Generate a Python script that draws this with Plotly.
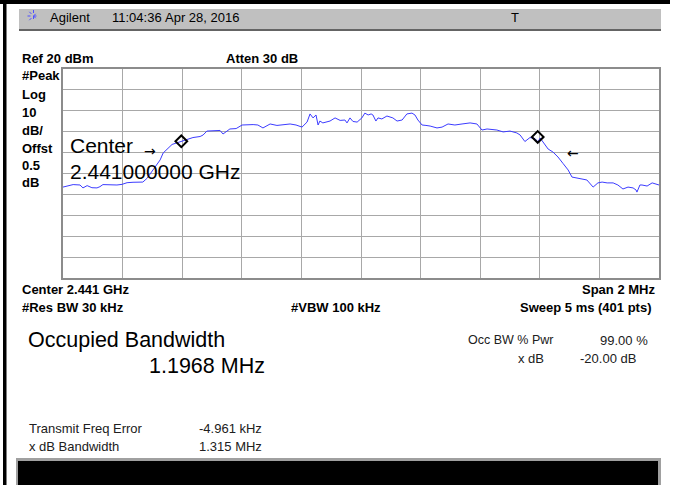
import plotly.graph_objects as go

# ---------------- data ----------------
freq_mhz = [2440.000, 2440.023, 2440.034, 2440.057, 2440.067, 2440.081, 2440.097, 2440.114,
            2440.124, 2440.134, 2440.158, 2440.181, 2440.198, 2440.215, 2440.235, 2440.258,
            2440.268, 2440.282, 2440.302, 2440.326, 2440.336, 2440.349, 2440.366, 2440.383,
            2440.399, 2440.416, 2440.436, 2440.460, 2440.470, 2440.483, 2440.503, 2440.527,
            2440.537, 2440.560, 2440.581, 2440.601, 2440.638, 2440.654, 2440.671, 2440.695,
            2440.718, 2440.738, 2440.762, 2440.782, 2440.802, 2440.819, 2440.829, 2440.839,
            2440.849, 2440.856, 2440.862, 2440.872, 2440.896, 2440.913, 2440.930, 2440.946,
            2440.953, 2440.963, 2440.973, 2440.987, 2441.003, 2441.013, 2441.024, 2441.034,
            2441.040, 2441.050, 2441.057, 2441.070, 2441.087, 2441.107, 2441.121, 2441.138,
            2441.154, 2441.171, 2441.181, 2441.191, 2441.205, 2441.218, 2441.232, 2441.255,
            2441.272, 2441.292, 2441.315, 2441.339, 2441.366, 2441.389, 2441.406, 2441.423,
            2441.456, 2441.477, 2441.500, 2441.523, 2441.534, 2441.550, 2441.567, 2441.584,
            2441.594, 2441.601, 2441.611, 2441.628, 2441.644, 2441.661, 2441.678, 2441.695,
            2441.708, 2441.725, 2441.745, 2441.758, 2441.779, 2441.795, 2441.809, 2441.826,
            2441.846, 2441.862, 2441.879, 2441.896, 2441.913, 2441.923, 2441.926, 2441.936,
            2441.943, 2441.960, 2441.977, 2441.987, 2442.000]
level_dbm = [-36.5, -35.7, -35.3, -35.5, -36.9, -35.8, -36.8, -36.9,
             -36.3, -35.3, -35.5, -35.5, -35.2, -34.4, -34.2, -33.9,
             -34.1, -32.3, -28.3, -23.5, -20.2, -18.3, -16.1, -15.3,
             -14.6, -14.0, -12.8, -12.3, -11.6, -9.7, -9.4, -9.4,
             -11.1, -8.7, -8.5, -6.8, -6.6, -6.8, -8.2, -6.3,
             -7.0, -6.8, -6.3, -6.8, -7.8, -5.4, -1.5, -3.4,
             -2.0, -6.8, -4.9, -5.8, -4.9, -3.4, -4.6, -4.4,
             -5.8, -3.4, -5.1, -5.4, -3.4, -1.1, -2.0, -1.5,
             -2.0, -4.9, -3.4, -3.9, -2.5, -3.4, -4.9, -4.4,
             -1.5, -1.1, -2.0, -4.4, -6.8, -7.0, -7.3, -8.2,
             -7.8, -6.3, -6.8, -6.3, -5.8, -6.3, -9.2, -8.7,
             -9.2, -10.1, -9.7, -10.6, -11.6, -14.7, -12.8, -13.3,
             -14.9, -13.0, -14.9, -18.3, -19.7, -22.1, -25.2, -28.3,
             -31.7, -32.2, -32.9, -33.1, -36.5, -34.5, -34.1, -34.5,
             -34.5, -35.5, -37.4, -36.5, -36.9, -37.9, -38.9, -35.5,
             -35.5, -36.0, -34.5, -35.0, -35.5]

marker_freq = [2440.397, 2441.593]
marker_level = [-14.6, -12.5]

x_range = [2440.0, 2442.0]
y_range = [-80, 20]

# ---------------- layout helpers (pixel -> paper) ----------------
W, H = 673, 485
L, R, T, B = 63, 659, 69, 278


def px(x):
    return (x - L) / (R - L)


def py(y):
    return 1 - (y - T) / (B - T)


fig = go.Figure()
fig.add_trace(go.Scatter(x=freq_mhz, y=level_dbm, mode="lines",
                         line=dict(color="#3c3cff", width=1), hoverinfo="skip"))
fig.add_trace(go.Scatter(x=marker_freq, y=marker_level, mode="markers",
                         marker=dict(symbol="diamond-open", size=9, color="black",
                                     line=dict(color="black", width=2)),
                         hoverinfo="skip"))

shapes = []
# top black bar and left black line
shapes.append(dict(type="rect", xref="paper", yref="paper", x0=px(0), x1=px(670),
                   y0=py(0), y1=py(4), fillcolor="black", line=dict(width=0)))
shapes.append(dict(type="rect", xref="paper", yref="paper", x0=px(3), x1=px(6.5),
                   y0=py(0), y1=py(485), fillcolor="black", line=dict(width=0)))
# header gray bar
shapes.append(dict(type="rect", xref="paper", yref="paper", x0=px(19), x1=px(661),
                   y0=py(9), y1=py(29), fillcolor="#c0c0c0", line=dict(width=0)))
shapes.append(dict(type="line", xref="paper", yref="paper", x0=px(19), x1=px(661),
                   y0=py(30), y1=py(30), line=dict(color="#303030", width=1.5)))
# bottom black bar
shapes.append(dict(type="rect", xref="paper", yref="paper", x0=px(16), x1=px(661),
                   y0=py(458), y1=py(485), fillcolor="#a0a0a0", line=dict(width=0)))
shapes.append(dict(type="rect", xref="paper", yref="paper", x0=px(18), x1=px(658),
                   y0=py(461), y1=py(485), fillcolor="black", line=dict(width=0)))
# Agilent logo (starburst)
cx, cy, r = 33.5, 16, 6
for dx, dy in [(1, 0), (0, 1), (0.7, 0.7), (0.7, -0.7)]:
    shapes.append(dict(type="line", xref="paper", yref="paper",
                       x0=px(cx - r * dx), x1=px(cx + r * dx),
                       y0=py(cy - r * dy), y1=py(cy + r * dy),
                       line=dict(color="#5050ff", width=1, dash="dot")))

ann = []


def text(x, y, s, size=13, bold=False, anchor="left", color="black", family="Liberation Sans"):
    ann.append(dict(xref="paper", yref="paper", x=px(x), y=py(y), text=("<b>%s</b>" % s) if bold else s,
                    showarrow=False, xanchor=anchor, yanchor="middle",
                    font=dict(family=family, size=size, color=color)))


# header
text(48, 18, "Agilent", 13)
text(110, 18, "11:04:36", 13)
text(163, 18, "Apr 28, 2016", 13)
text(515, 18, "T", 13, anchor="center")
# bold instrument labels
text(20, 59, "Ref 20 dBm", 13, bold=True)
text(262, 59, "Atten 30 dB", 13, bold=True, anchor="center")
for yy, s in [(76, "#Peak"), (94, "Log"), (112, "10"), (130, "dB/"),
              (148, "Offst"), (165, "0.5"), (182, "dB")]:
    text(20, yy, s, 13, bold=True)
text(20, 289, "Center 2.441 GHz", 13, bold=True)
text(657, 289, "Span 2 MHz", 13, bold=True, anchor="right")
text(20, 307, "#Res BW 30 kHz", 13, bold=True)
text(336, 307, "#VBW 100 kHz", 13, bold=True, anchor="center")
text(654, 307, "Sweep 5 ms (401 pts)", 13, bold=True, anchor="right")
# overlay on the plot
text(68, 145, "Center", 21)
text(68, 171, "2.441000000 GHz", 21)
text(150, 151, "→", 14, anchor="center", family="DejaVu Sans")
text(573, 153, "←", 14, anchor="center", family="DejaVu Sans")
# measurement results
text(26, 340, "Occupied Bandwidth", 21.5)
text(147, 366, "1.1968 MHz", 21.5)
text(466, 340, "Occ BW % Pwr", 12.5, color="#202020")
text(650, 340, "99.00 %", 13, anchor="right", color="#202020")
text(546, 358, "x dB", 13, anchor="right", color="#202020")
text(638, 358, "-20.00 dB", 13, anchor="right", color="#202020")
text(27, 428, "Transmit Freq Error", 13, color="#202020")
text(197, 428, "-4.961 kHz", 13, color="#202020")
text(27, 446, "x dB Bandwidth", 13, color="#202020")
text(197, 446, "1.315 MHz", 13, color="#202020")

fig.update_layout(
    width=W, height=H,
    margin=dict(l=L, r=W - R, t=T, b=H - B, pad=0),
    paper_bgcolor="white", plot_bgcolor="white",
    showlegend=False,
    shapes=shapes, annotations=ann,
    xaxis=dict(range=x_range, dtick=0.2, tick0=2440.0, showgrid=True, gridcolor="#a8a8a8",
               gridwidth=1, showline=True, mirror=True, linecolor="#8c8c8c", linewidth=2,
               showticklabels=False, ticks="", zeroline=False, fixedrange=True),
    yaxis=dict(range=y_range, dtick=10, tick0=-80, showgrid=True, gridcolor="#a8a8a8",
               gridwidth=1, showline=True, mirror=True, linecolor="#8c8c8c", linewidth=2,
               showticklabels=False, ticks="", zeroline=False, fixedrange=True),
)

fig.write_html("out.html", config={"displayModeBar": False},
               post_script="document.body.style.margin='0';document.body.style.overflow='hidden';")
